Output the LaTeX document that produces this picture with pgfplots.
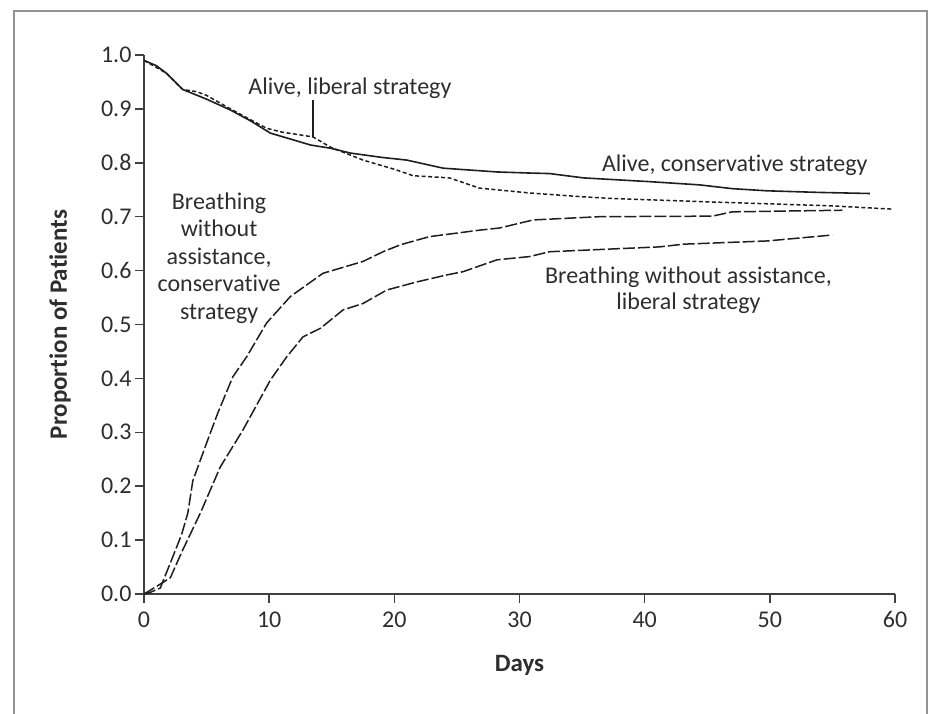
\documentclass[border=0pt]{standalone}
\usepackage{pgfplots}
\pgfplotsset{compat=1.18}
\usepackage{fontspec}
\setmainfont{Carlito}[Ligatures={NoCommon}]
\definecolor{txt}{HTML}{2E2E2E}
\definecolor{ln}{HTML}{1E1E1E}
\begin{document}
\begin{tikzpicture}[x=1pt,y=1pt]
\useasboundingbox (0,0) rectangle (930,714);
\draw[gray!85, line width=2.5pt] (14,-5) -- (14,703) -- (927,703) -- (927,-5);
\begin{axis}[
  at={(144pt,120pt)}, anchor=origin,
  scale only axis, width=751pt, height=539pt,
  xmin=0, xmax=60, ymin=0, ymax=1,
  axis x line*=bottom, axis y line*=left,
  axis line style={black!75, line width=1.8pt},
  xtick={0,10,...,60},
  ytick={0,0.1,0.2,0.3,0.4,0.5,0.6,0.7,0.8,0.9,1.0},
  tick align=outside, major tick length=9pt,
  tick style={black!75, line width=1.5pt},
  /pgf/number format/assume math mode=true,
  ticklabel style={font=\fontsize{24}{26}\selectfont, text=txt},
  xticklabel style={yshift=-5pt},
  yticklabel style={/pgf/number format/.cd, fixed, fixed zerofill, precision=1},
  xlabel={\textbf{Days}},
  ylabel={\textbf{Proportion of Patients}},
  label style={font=\fontsize{25}{27}\selectfont, text=txt},
  xlabel style={at={(rel axis cs:0.5,0)}, anchor=center, yshift=-71pt},
  ylabel style={at={(rel axis cs:0,0.5)}, anchor=center, yshift=84pt},
  clip=false,
]
% Alive, conservative strategy
\addplot[ln, line width=1.6pt] coordinates {
(0,0.99) (1,0.98) (1.8,0.966) (3.1,0.936) (5,0.918) (6.9,0.898) (8.5,0.878)
(10.1,0.855) (12,0.842) (13.3,0.833) (14.9,0.827) (16.5,0.818) (19,0.81)
(21,0.805) (23.9,0.790) (28.2,0.783) (30.8,0.781) (32.4,0.780) (35.1,0.772)
(40.4,0.765) (44.4,0.759) (47,0.752) (49.8,0.748) (54,0.745) (58,0.743)
};
% Alive, liberal strategy
\addplot[ln, line width=1.5pt, dash pattern=on 4pt off 2.5pt] coordinates {
(0,0.99) (1.8,0.966) (3.1,0.936) (4.2,0.932) (5,0.925) (6.9,0.900) (8.5,0.880)
(9.8,0.864) (11,0.857) (13.5,0.848) (14.9,0.829) (17.5,0.805) (20,0.788)
(21.5,0.776) (24.4,0.772) (26.8,0.753) (30.8,0.744) (35,0.737) (37.2,0.734)
(44.4,0.728) (52.4,0.722) (55,0.72) (59.8,0.714)
};
% Breathing without assistance, conservative strategy
\addplot[ln, line width=1.5pt, dash pattern=on 12pt off 3pt] coordinates {
(0,0) (0.5,0.003) (1.3,0.011) (2.3,0.069) (3,0.11) (3.5,0.15) (3.9,0.21)
(5,0.28) (5.9,0.336) (7.1,0.403) (8.2,0.44) (9.8,0.503) (11.7,0.552)
(14.3,0.595) (17.5,0.617) (19.1,0.635) (20.5,0.648) (22.8,0.663) (26.8,0.675)
(28.4,0.679) (31.1,0.694) (36.4,0.700) (45.4,0.701) (47,0.709) (55.8,0.712)
};
% Breathing without assistance, liberal strategy
\addplot[ln, line width=1.5pt, dash pattern=on 12pt off 3pt] coordinates {
(0,0) (1,0.014) (2.1,0.03) (3.1,0.082) (4.5,0.15) (6.1,0.236) (7.9,0.304)
(10.1,0.397) (11.4,0.44) (12.7,0.477) (14.1,0.493) (15.9,0.527) (17.5,0.539)
(19.4,0.564) (21.8,0.579) (24.2,0.592) (25.5,0.598) (28.2,0.62) (30.8,0.626)
(32.4,0.635) (41.2,0.644) (43.1,0.649) (49.8,0.655) (55,0.666)
};
\draw[ln, line width=1.4pt] (axis cs:13.5,0.917) -- (axis cs:13.5,0.848);
\node[text=txt, font=\fontsize{24}{26}\selectfont] at (axis cs:16.45,0.939) {Alive, liberal strategy};
\node[text=txt, font=\fontsize{24}{26}\selectfont] at (axis cs:47.2,0.796) {Alive, conservative strategy};
\node[text=txt, font=\fontsize{24}{26}\selectfont, align=center] at (axis cs:43.5,0.564) {Breathing without assistance,\\liberal strategy};
\node[text=txt, font=\fontsize{24}{27.5}\selectfont, align=center] at (axis cs:6.0,0.623) {Breathing\\without\\assistance,\\conservative\\strategy};
\end{axis}
\end{tikzpicture}
\end{document}
